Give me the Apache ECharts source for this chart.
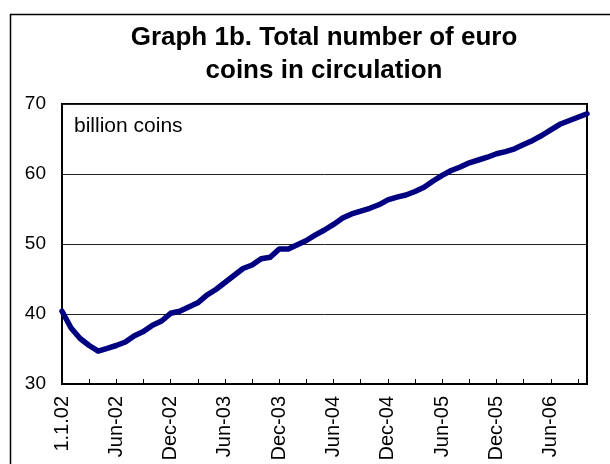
<!DOCTYPE html>
<html>
<head>
<meta charset="utf-8">
<script src="https://cdn.jsdelivr.net/npm/echarts@6/dist/echarts.min.js"></script>
<style>
  html, body { margin: 0; padding: 0; background: #fff; }
  #main { width: 610px; height: 464px; }
</style>
</head>
<body>
<div id="main"></div>
<script>
// month-end observations, first point is the cash changeover day
const categories = [
  '1.1.02', 'Jan-02', 'Feb-02', 'Mar-02', 'Apr-02', 'May-02', 'Jun-02',
  'Jul-02', 'Aug-02', 'Sep-02', 'Oct-02', 'Nov-02', 'Dec-02',
  'Jan-03', 'Feb-03', 'Mar-03', 'Apr-03', 'May-03', 'Jun-03',
  'Jul-03', 'Aug-03', 'Sep-03', 'Oct-03', 'Nov-03', 'Dec-03',
  'Jan-04', 'Feb-04', 'Mar-04', 'Apr-04', 'May-04', 'Jun-04',
  'Jul-04', 'Aug-04', 'Sep-04', 'Oct-04', 'Nov-04', 'Dec-04',
  'Jan-05', 'Feb-05', 'Mar-05', 'Apr-05', 'May-05', 'Jun-05',
  'Jul-05', 'Aug-05', 'Sep-05', 'Oct-05', 'Nov-05', 'Dec-05',
  'Jan-06', 'Feb-06', 'Mar-06', 'Apr-06', 'May-06', 'Jun-06',
  'Jul-06', 'Aug-06', 'Sep-06', 'Oct-06'
];

// billion coins
const coins = [
  40.4, 38.0, 36.5, 35.5, 34.7, 35.1, 35.5,
  36.0, 36.9, 37.5, 38.4, 39.0, 40.1,
  40.4, 41.0, 41.6, 42.7, 43.5, 44.5,
  45.5, 46.5, 47.0, 47.9, 48.1, 49.3,
  49.3, 49.9, 50.5, 51.3, 52.0, 52.8,
  53.7, 54.3, 54.7, 55.1, 55.6, 56.3,
  56.7, 57.0, 57.5, 58.1, 59.0, 59.8,
  60.5, 61.0, 61.6, 62.0, 62.4, 62.9,
  63.2, 63.6, 64.2, 64.8, 65.5, 66.3,
  67.1, 67.6, 68.1, 68.6
];

const font = '"Liberation Sans", Arial, sans-serif';

const myChart = echarts.init(document.getElementById('main'));

const option = {
  animation: false,
  title: {
    text: 'Graph 1b. Total number of euro\ncoins in circulation',
    left: 319,
    top: 16,
    textAlign: 'center',
    textStyle: {
      fontFamily: font,
      fontSize: 26,
      fontWeight: 'bold',
      lineHeight: 33,
      color: '#000',
    },
  },
  graphic: [
    {
      type: 'rect',
      shape: { x: 10.5, y: 14.5, width: 700, height: 600 },
      style: { fill: 'none', stroke: '#000', lineWidth: 1.5 },
    },
    {
      type: 'text',
      left: 74,
      top: 116,
      style: { text: 'billion coins', font: '21px ' + font, fill: '#000' },
    },
  ],
  grid: {
    left: 62,
    top: 104,
    right: 23,
    bottom: 80,
    show: true,
    borderColor: '#000',
    borderWidth: 2,
  },
  xAxis: {
    type: 'category',
    data: categories,
    boundaryGap: false,
    axisLine: { lineStyle: { color: '#000', width: 2 } },
    axisTick: { inside: true, length: 5, interval: 2, lineStyle: { color: '#000' } },
    axisLabel: {
      interval: 5,
      rotate: 90,
      margin: 12,
      fontFamily: font,
      fontSize: 20,
      color: '#000',
    },
  },
  yAxis: {
    type: 'value',
    min: 30,
    max: 70,
    interval: 10,
    axisLine: { show: true, lineStyle: { color: '#000', width: 2 } },
    axisTick: { show: false },
    splitLine: { lineStyle: { color: '#222', width: 1 } },
    axisLabel: { margin: 16, fontFamily: font, fontSize: 19, color: '#000' },
  },
  series: [
    {
      type: 'line',
      data: coins,
      showSymbol: false,
      lineStyle: { color: '#000080', width: 5.5, cap: 'round', join: 'round' },
    },
  ],
};

myChart.setOption(option);
</script>
</body>
</html>
